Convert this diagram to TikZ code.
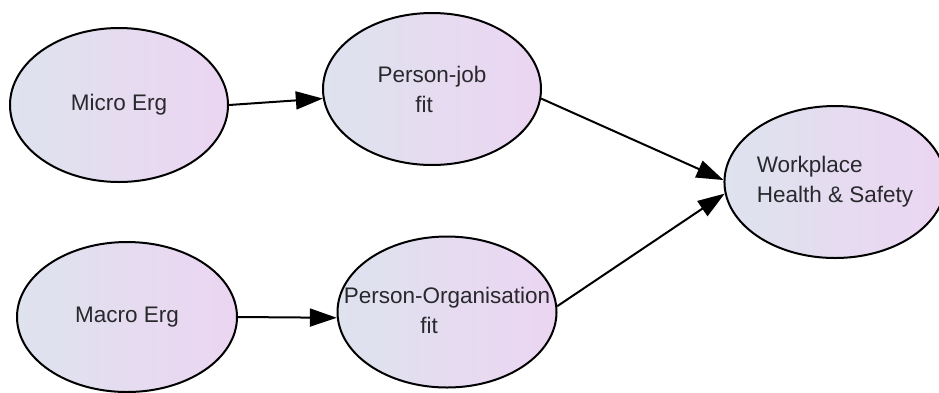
\documentclass[tikz,border=0pt]{standalone}
\usepackage{fontspec}
\setmainfont{Liberation Sans}
\usetikzlibrary{arrows.meta,shapes.geometric}
\definecolor{fillL}{RGB}{222,227,238}
\definecolor{fillR}{RGB}{236,213,242}
\definecolor{txt}{RGB}{40,40,45}
\begin{document}
\begin{tikzpicture}[x=1pt,y=-1pt,
  blob/.style={ellipse, draw=black, line width=2pt, left color=fillL, right color=fillR,
    inner sep=0pt, text=txt, font=\fontsize{22.5}{30}\selectfont, align=center},
  link/.style={line width=2pt, draw=black, -{Triangle[length=27pt,width=18pt]}}]
\useasboundingbox (0,0) rectangle (939,392);
\node[blob, minimum width=218pt, minimum height=154pt] (micro) at (119,105) {Micro Erg};
\node[blob, minimum width=218pt, minimum height=152pt] (pjob) at (432,89) {Person-job\\\hspace*{-16pt}fit};
\node[blob, minimum width=220pt, minimum height=150pt] (macro) at (127,317) {Macro Erg};
\node[blob, minimum width=219pt, minimum height=151pt] (porg) at (447,312)
  {\makebox[0pt]{\begin{tabular}{@{}c@{}}Person-Organisation\\\hspace*{-36pt}fit\end{tabular}}};
\node[blob, minimum width=204pt, minimum height=152pt, align=left] (wp) at (835,182) {Workplace\\Health \& Safety};
\draw[link] (micro.east) -- (pjob.185);
\draw[link] (macro.east) -- (porg.183);
\draw[link] (pjob.355) -- (wp.179);
\draw[link] (porg.3) -- (wp.186);
\end{tikzpicture}
\end{document}
